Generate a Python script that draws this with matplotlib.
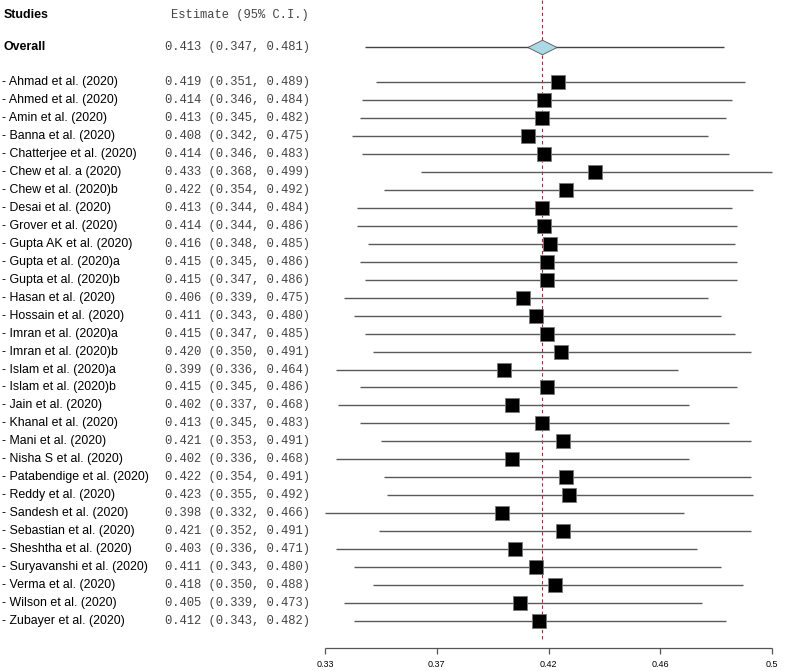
import numpy as np
import matplotlib
matplotlib.use('Agg')
import matplotlib.pyplot as plt
from matplotlib.path import Path

# data
studies = ['Ahmad et al. (2020)', 'Ahmed et al. (2020)', 'Amin et al. (2020)', 'Banna et al. (2020)',
           'Chatterjee et al. (2020)', 'Chew et al. a (2020)', 'Chew et al. (2020)b', 'Desai et al. (2020)',
           'Grover et al. (2020)', 'Gupta AK et al. (2020)', 'Gupta et al. (2020)a', 'Gupta et al. (2020)b',
           'Hasan et al. (2020)', 'Hossain et al. (2020)', 'Imran et al. (2020)a', 'Imran et al. (2020)b',
           'Islam et al. (2020)a', 'Islam et al. (2020)b', 'Jain et al. (2020)', 'Khanal et al. (2020)',
           'Mani et al. (2020)', 'Nisha S et al. (2020)', 'Patabendige et al. (2020)', 'Reddy et al. (2020)',
           'Sandesh et al. (2020)', 'Sebastian et al. (2020)', 'Sheshtha et al. (2020)',
           'Suryavanshi et al. (2020)', 'Verma et al. (2020)', 'Wilson et al. (2020)', 'Zubayer et al. (2020)']
estimate = [0.419, 0.414, 0.413, 0.408, 0.414, 0.433, 0.422, 0.413, 0.414, 0.416, 0.415, 0.415, 0.406,
            0.411, 0.415, 0.420, 0.399, 0.415, 0.402, 0.413, 0.421, 0.402, 0.422, 0.423, 0.398, 0.421,
            0.403, 0.411, 0.418, 0.405, 0.412]
lower = [0.351, 0.346, 0.345, 0.342, 0.346, 0.368, 0.354, 0.344, 0.344, 0.348, 0.345, 0.347, 0.339,
         0.343, 0.347, 0.350, 0.336, 0.345, 0.337, 0.345, 0.353, 0.336, 0.354, 0.355, 0.332, 0.352,
         0.336, 0.343, 0.350, 0.339, 0.343]
upper = [0.489, 0.484, 0.482, 0.475, 0.483, 0.499, 0.492, 0.484, 0.486, 0.485, 0.486, 0.486, 0.475,
         0.480, 0.485, 0.491, 0.464, 0.486, 0.468, 0.483, 0.491, 0.468, 0.491, 0.492, 0.466, 0.491,
         0.471, 0.480, 0.488, 0.473, 0.482]
overall = 0.413
overall_ci = (0.347, 0.481)

W, H = 789, 671
fig = plt.figure(figsize=(W / 100, H / 100), dpi=100)
ax = fig.add_axes([0, 0, 1, 1])
ax.axis('off')

# x scale: range of all CIs spans pixels 325..772
lo, hi = min(lower), max(upper)
ppu = (772 - 325) / (hi - lo)
ax.set_xlim(lo - 325 / ppu, lo + (W - 325) / ppu)
# y in rows, first study at pixel 82, row height ~18 px
row = 17.97
ax.set_ylim((H - 82) / row, -82 / row)

n = len(studies)
ypos = np.arange(n)
y_over = -1.95
y_head = -3.75
y_axis = 31.5

tx = ax.get_yaxis_transform()
lab_font = dict(family=['Liberation Sans', 'DejaVu Sans'], fontsize=8.9, va='center', transform=tx)
mono_font = dict(family=['Liberation Mono', 'DejaVu Sans Mono'], fontsize=8.7, va='center',
                 color='#444444', transform=tx)

ax.text(4 / W, y_head, 'Studies', fontweight='bold', **lab_font)
ax.text(171 / W, y_head, 'Estimate (95% C.I.)', **mono_font)
ax.text(4 / W, y_over, 'Overall', fontweight='bold', **lab_font)
ax.text(165 / W, y_over, '%.3f (%.3f, %.3f)' % (overall, *overall_ci), **mono_font)

for i in range(n):
    ax.text(2 / W, ypos[i], '- ' + studies[i], **lab_font)
    ax.text(165 / W, ypos[i], '%.3f (%.3f, %.3f)' % (estimate[i], lower[i], upper[i]), **mono_font)

# reference line at overall estimate
ax.vlines(overall, -82 / row, 31.05, colors='#8b3a3a', linestyles=(0, (3, 2.5)), lw=0.8, zorder=1)

# CI lines and squares
ax.hlines(ypos, lower, upper, colors='#5a5a5a', lw=1.0, zorder=2)
ax.plot(estimate, ypos, 's', ms=10.5, mfc='black', mec='#777777', mew=0.6, zorder=3)

# overall diamond
ax.hlines(y_over, *overall_ci, colors='#444444', lw=1.0, zorder=2)
diamond = Path([(-1, 0), (0, 0.5), (1, 0), (0, -0.5), (-1, 0)],
               [Path.MOVETO, Path.LINETO, Path.LINETO, Path.LINETO, Path.CLOSEPOLY])
ax.plot(overall, y_over, marker=diamond, ms=21, mfc='#add8e6', mec='#555555', mew=0.6, zorder=3)

# x axis
ticks = np.linspace(lo, hi, 5)
ax.hlines(y_axis, lo, hi, colors='#555555', lw=0.9)
ax.vlines(ticks, y_axis, y_axis + 0.35, colors='#555555', lw=0.9)
for t in ticks:
    ax.text(t, y_axis + 0.9, '%g' % round(t, 2), ha='center', va='center', fontsize=6.5,
            family=['Liberation Sans', 'DejaVu Sans'])

fig.savefig('out.png', dpi=100)
